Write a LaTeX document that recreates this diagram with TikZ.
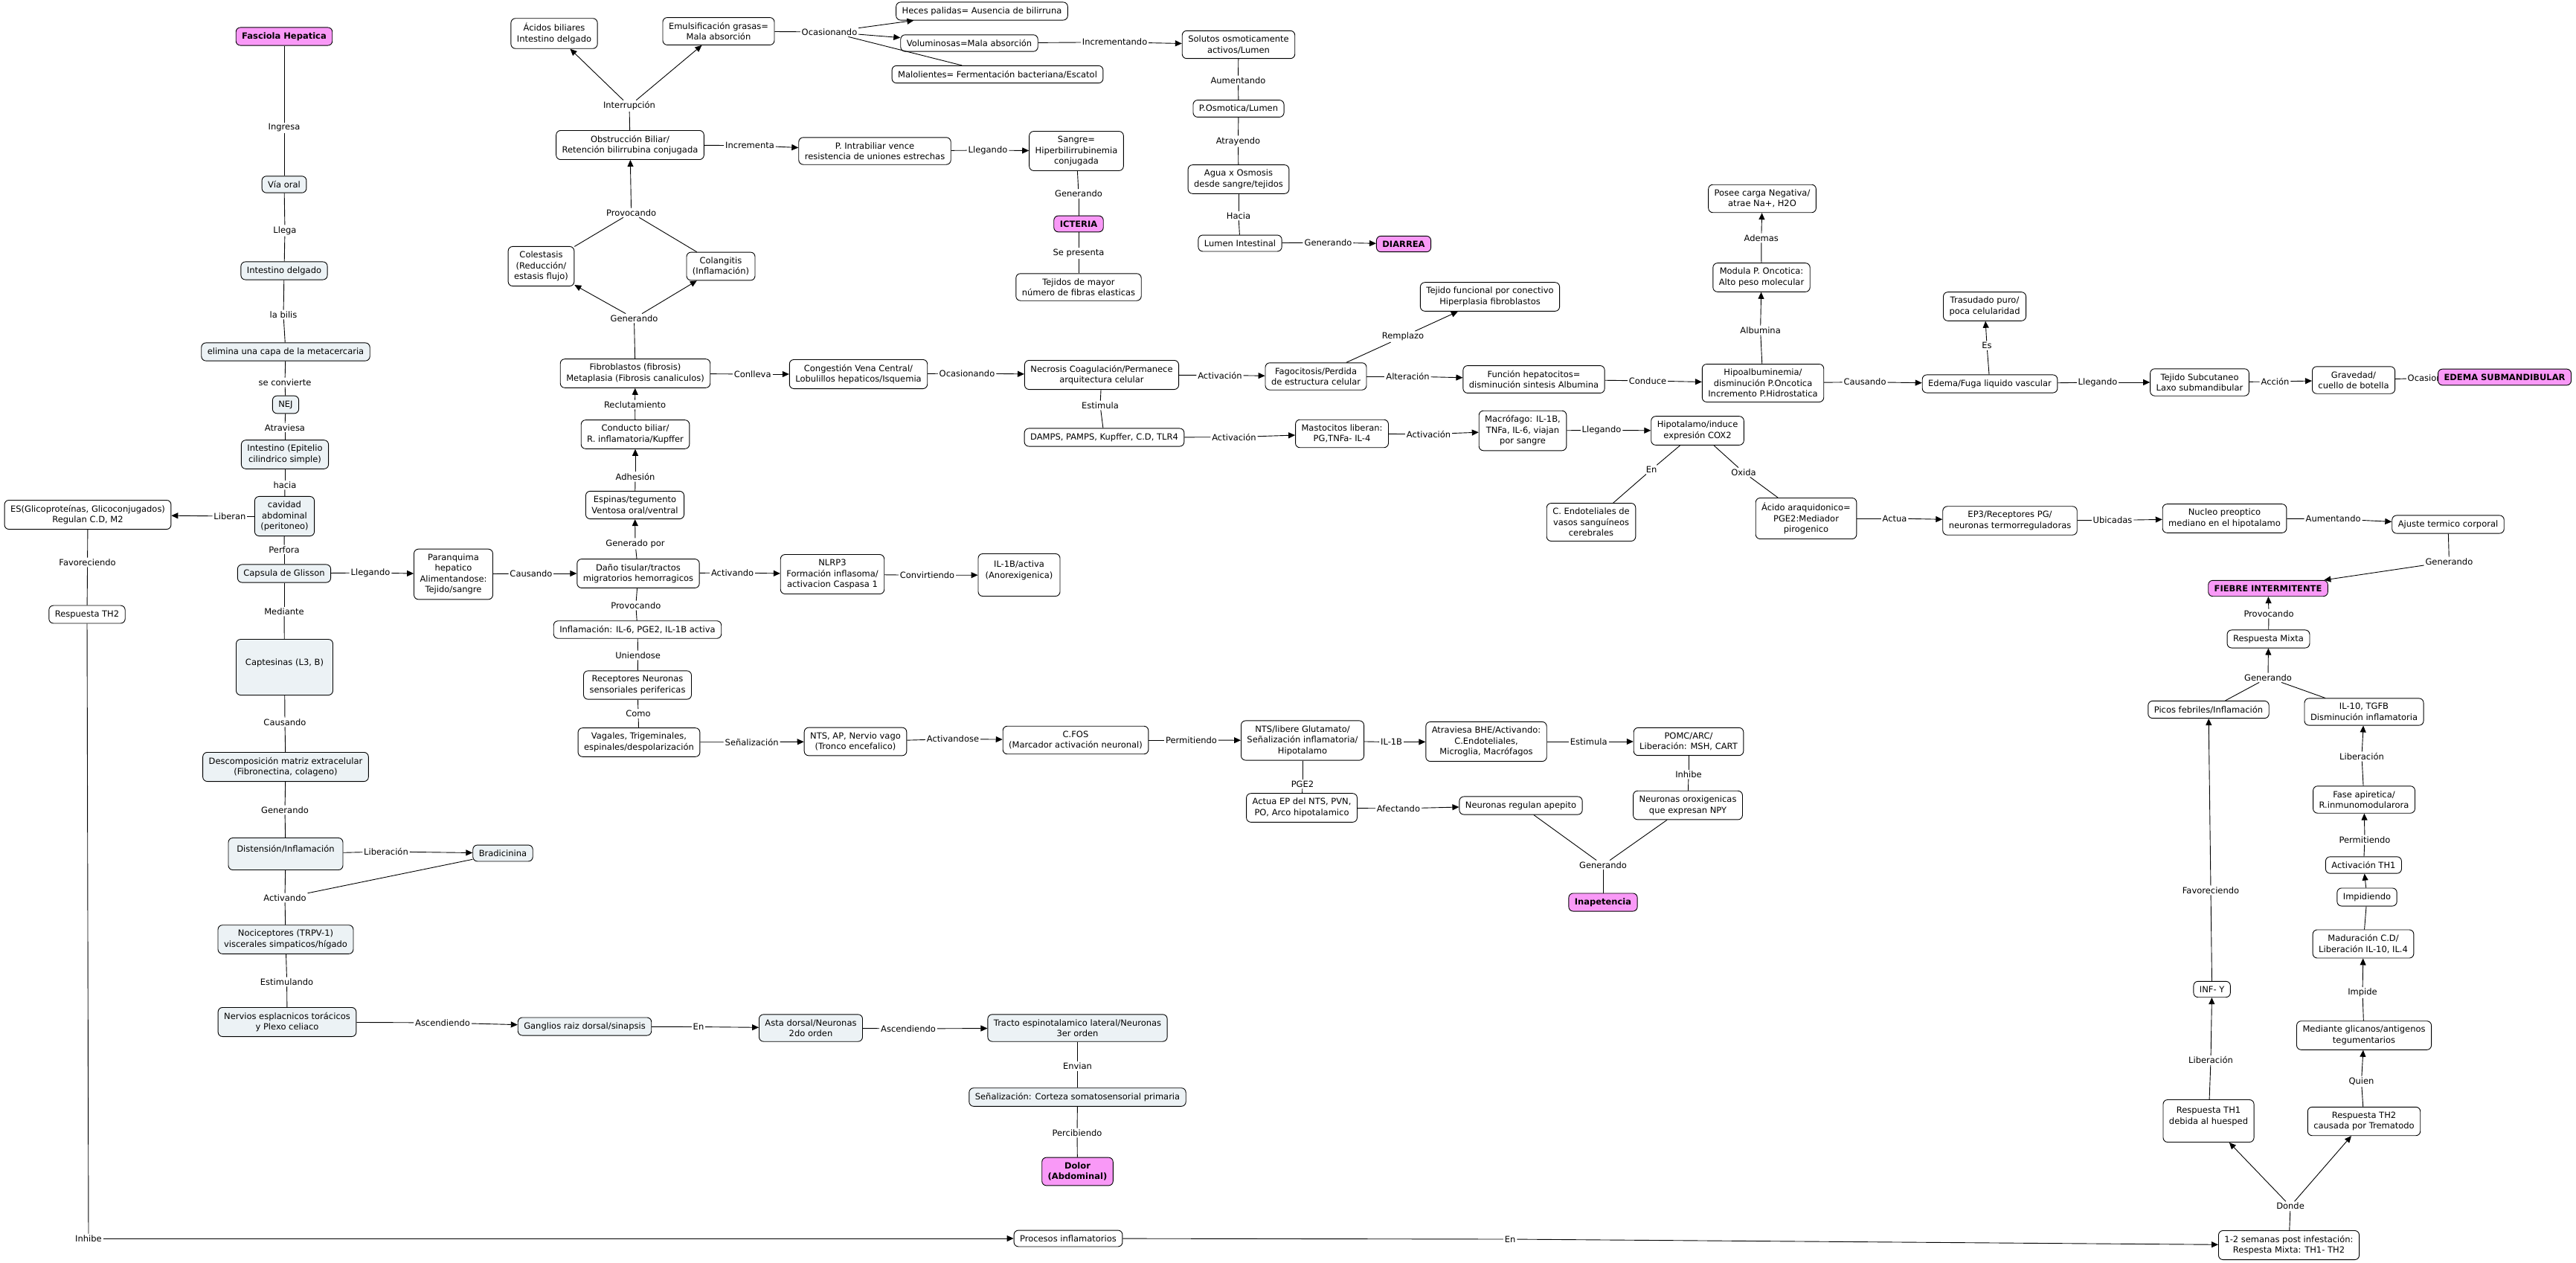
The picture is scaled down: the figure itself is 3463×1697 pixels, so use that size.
\documentclass[tikz,border=0pt]{standalone}
\usepackage{fontspec}
\setmainfont{DejaVu Sans}
\usepackage{tikz}
\usetikzlibrary{arrows.meta}
\definecolor{keypink}{RGB}{249,153,247}
\definecolor{paleblue}{RGB}{236,242,245}

\begin{document}
\begin{tikzpicture}[x=1pt, y=-1pt, line width=0.9pt, font=\fontsize{11.5}{14.5}\selectfont,
  concept/.style={draw, rounded corners=6pt, align=center, inner xsep=8pt, inner ysep=6.5pt, fill=white},
  bluec/.style={concept, fill=paleblue},
  keyc/.style={concept, fill=keypink, font=\fontsize{11.5}{14.5}\selectfont\bfseries},
  link/.style={inner sep=1.5pt, align=center},
  arr/.style={-{Triangle[length=9pt,width=8pt]}}]
  \useasboundingbox (0,0) rectangle (3463,1697);

  % left column
  \node[keyc] (fasc) at (382,49) {Fasciola Hepatica};
  \node[bluec] (viaoral) at (382,248) {Vía oral};
  \node[bluec] (intdel) at (382,364) {Intestino delgado};
  \node[bluec] (elimina) at (384,473) {elimina una capa de la metacercaria};
  \node[bluec] (nej) at (384,544) {NEJ};
  \node[bluec] (epitelio) at (383,611) {Intestino (Epitelio\\cilindrico simple)};
  \node[bluec] (cavidad) at (382.5,694) {cavidad\\abdominal\\(peritoneo)};
  \node[concept] (es) at (118,692) {ES(Glicoproteínas, Glicoconjugados)\\Regulan C.D, M2};
  \node[concept] (rth2) at (117,826) {Respuesta TH2};
  \node[bluec] (glisson) at (382,771) {Capsula de Glisson};
  \node[concept] (parenq) at (609.5,772) {Paranquima\\hepatico\\Alimentandose:\\Tejido/sangre};
  \node[bluec, minimum width=130pt, minimum height=75pt] (captes) at (382.5,897) {Captesinas (L3, B)\\\mbox{}};
  \node[bluec] (descomp) at (384,1031) {Descomposición matriz extracelular\\(Fibronectina, colageno)};
  \node[bluec, minimum width=154pt, minimum height=43pt] (disten) at (384,1148) {Distensión/Inflamación\\\mbox{}};
  \node[bluec] (bradi) at (676,1147) {Bradicinina};
  \node[bluec] (nocic) at (384,1263) {Nociceptores (TRPV-1)\\viscerales simpaticos/hígado};
  \node[bluec] (nervios) at (386,1374) {Nervios esplacnicos torácicos\\y Plexo celiaco};
  \node[bluec] (ganglios) at (786,1380) {Ganglios raiz dorsal/sinapsis};
  \node[bluec] (asta) at (1090,1382) {Asta dorsal/Neuronas\\2do orden};
  \node[bluec] (tracto) at (1448.5,1382) {Tracto espinotalamico lateral/Neuronas\\3er orden};
  \node[bluec] (corteza) at (1448.5,1475) {Señalización: Corteza somatosensorial primaria};
  \node[keyc] (dolor) at (1448.5,1575) {Dolor\\(Abdominal)};
  \node[concept] (procesos) at (1436,1665) {Procesos inflamatorios};
  \node[concept] (semanas) at (3077,1674) {1-2 semanas post infestación:\\Respesta Mixta: TH1- TH2};

  % bile ducts, diarrhea, jaundice
  \node[concept] (acidos) at (745,45) {Ácidos biliares\\Intestino delgado};
  \node[concept] (emuls) at (966,42) {Emulsificación grasas=\\Mala absorción};
  \node[concept] (heces) at (1320,15) {Heces palidas= Ausencia de bilirruna};
  \node[concept] (volum) at (1303,58) {Voluminosas=Mala absorción};
  \node[concept] (malol) at (1341,100) {Malolientes= Fermentación bacteriana/Escatol};
  \node[concept] (obstr) at (847,195) {Obstrucción Biliar/\\Retención bilirrubina conjugada};
  \node[concept] (pintra) at (1176,203) {P. Intrabiliar vence\\resistencia de uniones estrechas};
  \node[concept] (sangre) at (1447,203) {Sangre=\\Hiperbilirrubinemia\\conjugada};
  \node[keyc] (icteria) at (1450,301) {ICTERIA};
  \node[concept] (tejmayor) at (1450,386) {Tejidos de mayor\\número de fibras elasticas};
  \node[concept] (solutos) at (1665,60) {Solutos osmoticamente\\activos/Lumen};
  \node[concept] (posm) at (1665,146) {P.Osmotica/Lumen};
  \node[concept] (agua) at (1665,241) {Agua x Osmosis\\desde sangre/tejidos};
  \node[concept] (lumen) at (1667,327) {Lumen Intestinal};
  \node[keyc] (diarrea) at (1887,328) {DIARREA};
  \node[concept] (colest) at (727.5,358) {Colestasis\\(Reducción/\\estasis flujo)};
  \node[concept] (colang) at (969,358) {Colangitis\\(Inflamación)};
  \node[concept] (fibro) at (854,502) {Fibroblastos (fibrosis)\\Metaplasia (Fibrosis canaliculos)};
  \node[concept] (congest) at (1154,503) {Congestión Vena Central/\\Lobulillos hepaticos/Isquemia};
  \node[concept] (necrosis) at (1481,504) {Necrosis Coagulación/Permanece\\arquitectura celular};
  \node[concept] (fagoc) at (1769,506) {Fagocitosis/Perdida\\de estructura celular};
  \node[concept] (tejfunc) at (2003,399) {Tejido funcional por conectivo\\Hiperplasia fibroblastos};
  \node[concept] (funcion) at (2062,510) {Función hepatocitos=\\disminución sintesis Albumina};
  \node[concept] (hipoalb) at (2370,515) {Hipoalbuminemia/\\disminución P.Oncotica\\Incremento P.Hidrostatica};
  \node[concept] (modula) at (2368,373) {Modula P. Oncotica:\\Alto peso molecular};
  \node[concept] (posee) at (2369,267) {Posee carga Negativa/\\atrae Na+, H2O};
  \node[concept] (edema) at (2675,516) {Edema/Fuga liquido vascular};
  \node[concept] (trasud) at (2668,412) {Trasudado puro/\\poca celularidad};
  \node[concept] (subcut) at (2957,514) {Tejido Subcutaneo\\Laxo submandibular};
  \node[concept] (graved) at (3164,511) {Gravedad/\\cuello de botella};
  \node[link] (lOcasion3) at (3274,508) {Ocasionando};
  \node[keyc] (edemasub) at (3367,507) {EDEMA SUBMANDIBULAR};

  % middle: damage, inflammation, fever
  \node[concept] (conducto) at (854,584) {Conducto biliar/\\R. inflamatoria/Kupffer};
  \node[concept] (espinas) at (853.5,679) {Espinas/tegumento\\Ventosa oral/ventral};
  \node[concept] (dano) at (858,771) {Daño tisular/tractos\\migratorios hemorragicos};
  \node[concept] (nlrp) at (1119,772) {NLRP3\\Formación inflasoma/\\activacion Caspasa 1};
  \node[concept, minimum width=110pt, minimum height=57pt] (ilactiva) at (1370,773) {IL-1B/activa\\(Anorexigenica)\\\mbox{}};
  \node[concept] (inflam) at (857,846.5) {Inflamación: IL-6, PGE2, IL-1B activa};
  \node[concept] (recept) at (857,921) {Receptores Neuronas\\sensoriales perifericas};
  \node[concept] (vagales) at (859,998) {Vagales, Trigeminales,\\espinales/despolarización};
  \node[concept] (ntsap) at (1150,997) {NTS, AP, Nervio vago\\(Tronco encefalico)};
  \node[concept] (cfos) at (1446,995) {C.FOS\\(Marcador activación neuronal)};
  \node[concept] (damps) at (1484.5,588) {DAMPS, PAMPS, Kupffer, C.D, TLR4};
  \node[concept] (masto) at (1804,583) {Mastocitos liberan:\\PG,TNFa- IL-4};
  \node[concept] (macro) at (2047,579) {Macrófago: IL-1B,\\TNFa, IL-6, viajan\\por sangre};
  \node[concept] (hipot) at (2282,579) {Hipotalamo/induce\\expresión COX2};
  \node[concept] (cendot) at (2139,702) {C. Endoteliales de\\vasos sanguíneos\\cerebrales};
  \node[concept] (acido) at (2428,697) {Ácido araquidonico=\\PGE2:Mediador\\pirogenico};
  \node[concept] (ep3) at (2702,700) {EP3/Receptores PG/\\neuronas termorreguladoras};
  \node[concept] (nucleo) at (2990.5,697) {Nucleo preoptico\\mediano en el hipotalamo};
  \node[concept] (ajuste) at (3291,705) {Ajuste termico corporal};
  \node[keyc] (fiebre) at (3049,791) {FIEBRE INTERMITENTE};
  \node[concept] (rmixta) at (3049.5,859) {Respuesta Mixta};
  \node[concept] (picos) at (2969,954) {Picos febriles/Inflamación};
  \node[concept] (il10) at (3178,957) {IL-10, TGFB\\Disminución inflamatoria};
  \node[concept] (fase) at (3178,1075) {Fase apiretica/\\R.inmunomodularora};
  \node[concept] (acth1) at (3177.4,1163) {Activación TH1};
  \node[concept] (impidiendo) at (3182,1206) {Impidiendo};
  \node[concept] (madur) at (3177,1269) {Maduración C.D/\\Liberación IL-10, IL.4};
  \node[concept] (mediante) at (3178,1392) {Mediante glicanos/antigenos\\tegumentarios};
  \node[concept] (rth2b) at (3178,1507.5) {Respuesta TH2\\causada por Trematodo};
  \node[concept, minimum height=57pt] (rth1) at (2969,1507) {Respuesta TH1\\debida al huesped\\\mbox{}};
  \node[concept] (infy) at (2973.6,1330) {INF- Y};
  \node[concept] (ntslib) at (1751,995.5) {NTS/libere Glutamato/\\Señalización inflamatoria/\\Hipotalamo};
  \node[concept] (atrav) at (1998,997) {Atraviesa BHE/Activando:\\C.Endoteliales,\\Microglia, Macrófagos};
  \node[concept] (pomc) at (2270,997) {POMC/ARC/\\Liberación: MSH, CART};
  \node[concept] (neurox) at (2269,1082.6) {Neuronas oroxigenicas\\que expresan NPY};
  \node[concept] (actuaep) at (1750,1086) {Actua EP del NTS, PVN,\\PO, Arco hipotalamico};
  \node[concept] (neureg) at (2044.5,1083) {Neuronas regulan apepito};
  \node[keyc] (inapet) at (2155,1213) {Inapetencia};

  % linking phrases
  \node[link] (lIngresa) at (382,172) {Ingresa};
  \node[link] (lLlega) at (383,310) {Llega};
  \node[link] (lBilis) at (381,423) {la bilis};
  \node[link] (lConvierte) at (383,514) {se convierte};
  \node[link] (lAtraviesa) at (383,575) {Atraviesa};
  \node[link] (lHacia) at (383,652) {hacia};
  \node[link] (lLiberan) at (309,694) {Liberan};
  \node[link] (lFavor) at (117.6,756) {Favoreciendo};
  \node[link] (lPerfora) at (382,739) {Perfora};
  \node[link] (lLlegando1) at (498,770) {Llegando};
  \node[link] (lCausando1) at (714,771) {Causando};
  \node[link] (lMediante) at (382,822) {Mediante};
  \node[link] (lCausando2) at (383,971) {Causando};
  \node[link] (lGenerando1) at (383,1089) {Generando};
  \node[link] (lLiberacion1) at (519,1145) {Liberación};
  \node[link] (lActivando1) at (383,1207) {Activando};
  \node[link] (lEstimulando) at (385.6,1320) {Estimulando};
  \node[link] (lAscend1) at (595,1375) {Ascendiendo};
  \node[link] (lEn1) at (939,1380.5) {En};
  \node[link] (lAscend2) at (1221,1383) {Ascendiendo};
  \node[link] (lEnvian) at (1448.5,1433.5) {Envian};
  \node[link] (lPercib) at (1448,1523) {Percibiendo};
  \node[link] (lInhibe1) at (119,1665) {Inhibe};
  \node[link] (lEn2) at (2030,1666) {En};
  \node[link] (lInterr) at (846,142.5) {Interrupción};
  \node[link] (lOcasion1) at (1115,43) {Ocasionando};
  \node[link] (lIncrementa) at (1008,195.6) {Incrementa};
  \node[link] (lLlegando2) at (1328,202) {Llegando};
  \node[link] (lGenerando2) at (1450,260.6) {Generando};
  \node[link] (lSepresenta) at (1450,340.6) {Se presenta};
  \node[link] (lIncrementando) at (1498.6,56.7) {Incrementando};
  \node[link] (lAumentando1) at (1664.5,108) {Aumentando};
  \node[link] (lAtrayendo) at (1664.5,190) {Atrayendo};
  \node[link] (lHacia2) at (1665,290) {Hacia};
  \node[link] (lGenerando3) at (1785.5,326) {Generando};
  \node[link] (lProvocando1) at (848.6,286) {Provocando};
  \node[link] (lGenerando4) at (852.5,428) {Generando};
  \node[link] (lConlleva) at (1011.7,503) {Conlleva};
  \node[link] (lOcasion2) at (1300,502) {Ocasionando};
  \node[link] (lReclut) at (853.6,544) {Reclutamiento};
  \node[link] (lEstimula1) at (1479,545) {Estimula};
  \node[link] (lActivacion1) at (1640,504.5) {Activación};
  \node[link] (lRemplazo) at (1886,452.6) {Remplazo};
  \node[link] (lAlteracion) at (1892.5,506) {Alteración};
  \node[link] (lConduce) at (2215,512) {Conduce};
  \node[link] (lAlbumina) at (2366.6,444) {Albumina};
  \node[link] (lAdemas) at (2367.8,320) {Ademas};
  \node[link] (lCausando3) at (2507,513.6) {Causando};
  \node[link] (lEs) at (2671,464.6) {Es};
  \node[link] (lLlegando3) at (2820,514) {Llegando};
  \node[link] (lAccion) at (3058.5,513) {Acción};
  \node[link] (lAdhesion) at (854,641) {Adhesión};
  \node[link] (lGenerado) at (854,731) {Generado por};
  \node[link] (lActivando2) at (984.6,770) {Activando};
  \node[link] (lConvirt) at (1246.5,773.4) {Convirtiendo};
  \node[link] (lProvocando2) at (854.8,814) {Provocando};
  \node[link] (lUniendose) at (857.6,881) {Uniendose};
  \node[link] (lComo) at (858,959.5) {Como};
  \node[link] (lSenal) at (1010.7,997.6) {Señalización};
  \node[link] (lActivandose) at (1281,993.5) {Activandose};
  \node[link] (lActivacion2) at (1659,587.7) {Activación};
  \node[link] (lActivacion3) at (1920.5,583.7) {Activación};
  \node[link] (lLlegando4) at (2153,578.5) {Llegando};
  \node[link] (lEn3) at (2220,631.4) {En};
  \node[link] (lOxida) at (2344,635) {Oxida};
  \node[link] (lActua) at (2547,697) {Actua};
  \node[link] (lUbicadas) at (2840,699.5) {Ubicadas};
  \node[link] (lAumentando2) at (3136.6,697.6) {Aumentando};
  \node[link] (lGenerando5) at (3292.4,755) {Generando};
  \node[link] (lProvocando3) at (3050,825) {Provocando};
  \node[link] (lGenerando6) at (3049,911) {Generando};
  \node[link] (lLiberacion2) at (3175,1017) {Liberación};
  \node[link] (lPermit2) at (3179,1129) {Permitiendo};
  \node[link] (lImpide) at (3176,1334.5) {Impide};
  \node[link] (lQuien) at (3174.5,1454) {Quien};
  \node[link] (lDonde) at (3079,1621.6) {Donde};
  \node[link] (lLiberacion3) at (2972,1425.4) {Liberación};
  \node[link] (lFavor2) at (2972,1197) {Favoreciendo};
  \node[link] (lPermit1) at (1601.5,995) {Permitiendo};
  \node[link] (lIL1B) at (1870.6,997.6) {IL-1B};
  \node[link] (lEstimula2) at (2135.8,997) {Estimula};
  \node[link] (lInhibe2) at (2270,1041) {Inhibe};
  \node[link] (lPGE2) at (1751,1054) {PGE2};
  \node[link] (lAfectando) at (1880,1087) {Afectando};
  \node[link] (lGenerando7) at (2155,1163) {Generando};

  % connectors
  \draw (fasc)--(lIngresa); \draw (lIngresa)--(viaoral);
  \draw (viaoral)--(lLlega); \draw (lLlega)--(intdel);
  \draw (intdel)--(lBilis); \draw (lBilis)--(elimina);
  \draw (elimina)--(lConvierte); \draw (lConvierte)--(nej);
  \draw (nej)--(lAtraviesa); \draw (lAtraviesa)--(epitelio);
  \draw (epitelio)--(lHacia); \draw (lHacia)--(cavidad);
  \draw (cavidad)--(lLiberan); \draw[arr] (lLiberan)--(es);
  \draw (es)--(lFavor); \draw (lFavor)--(rth2);
  \draw (cavidad)--(lPerfora); \draw (lPerfora)--(glisson);
  \draw (glisson)--(lLlegando1); \draw[arr] (lLlegando1)--(parenq);
  \draw (parenq)--(lCausando1); \draw[arr] (lCausando1)--(dano);
  \draw (glisson)--(lMediante); \draw (lMediante)--(captes);
  \draw (captes)--(lCausando2); \draw (lCausando2)--(descomp);
  \draw (descomp)--(lGenerando1); \draw (lGenerando1)--(disten);
  \draw (disten)--(lLiberacion1); \draw[arr] (lLiberacion1)--(bradi);
  \draw (disten)--(lActivando1); \draw (bradi)--(lActivando1); \draw (lActivando1)--(nocic);
  \draw (nocic)--(lEstimulando); \draw (lEstimulando)--(nervios);
  \draw (nervios)--(lAscend1); \draw[arr] (lAscend1)--(ganglios);
  \draw (ganglios)--(lEn1); \draw[arr] (lEn1)--(asta);
  \draw (asta)--(lAscend2); \draw[arr] (lAscend2)--(tracto);
  \draw (tracto)--(lEnvian); \draw (lEnvian)--(corteza);
  \draw (corteza)--(lPercib); \draw (lPercib)--(dolor);
  \draw (rth2)--(lInhibe1); \draw[arr] (lInhibe1)--(procesos);
  \draw (procesos)--(lEn2); \draw[arr] (lEn2)--(semanas);

  \draw (dano)--(lGenerado); \draw[arr] (lGenerado)--(espinas);
  \draw (espinas)--(lAdhesion); \draw[arr] (lAdhesion)--(conducto);
  \draw (conducto)--(lReclut); \draw[arr] (lReclut)--(fibro);
  \draw (fibro)--(lGenerando4); \draw[arr] (lGenerando4)--(colest); \draw[arr] (lGenerando4)--(colang);
  \draw (colest)--(lProvocando1); \draw (colang)--(lProvocando1); \draw[arr] (lProvocando1)--(obstr);
  \draw (obstr)--(lInterr); \draw[arr] (lInterr)--(acidos); \draw[arr] (lInterr)--(emuls);
  \draw (emuls)--(lOcasion1); \draw[arr] (lOcasion1)--(heces); \draw[arr] (lOcasion1)--(volum); \draw (lOcasion1)--(malol);
  \draw (volum)--(lIncrementando); \draw[arr] (lIncrementando)--(solutos);
  \draw (solutos)--(lAumentando1); \draw (lAumentando1)--(posm);
  \draw (posm)--(lAtrayendo); \draw (lAtrayendo)--(agua);
  \draw (agua)--(lHacia2); \draw (lHacia2)--(lumen);
  \draw (lumen)--(lGenerando3); \draw[arr] (lGenerando3)--(diarrea);
  \draw (obstr)--(lIncrementa); \draw[arr] (lIncrementa)--(pintra);
  \draw (pintra)--(lLlegando2); \draw[arr] (lLlegando2)--(sangre);
  \draw (sangre)--(lGenerando2); \draw (lGenerando2)--(icteria);
  \draw (icteria)--(lSepresenta); \draw (lSepresenta)--(tejmayor);
  \draw (fibro)--(lConlleva); \draw[arr] (lConlleva)--(congest);
  \draw (congest)--(lOcasion2); \draw[arr] (lOcasion2)--(necrosis);
  \draw (necrosis)--(lActivacion1); \draw[arr] (lActivacion1)--(fagoc);
  \draw (fagoc)--(lRemplazo); \draw[arr] (lRemplazo)--(tejfunc);
  \draw (fagoc)--(lAlteracion); \draw[arr] (lAlteracion)--(funcion);
  \draw (funcion)--(lConduce); \draw[arr] (lConduce)--(hipoalb);
  \draw (hipoalb)--(lAlbumina); \draw[arr] (lAlbumina)--(modula);
  \draw (modula)--(lAdemas); \draw[arr] (lAdemas)--(posee);
  \draw (hipoalb)--(lCausando3); \draw[arr] (lCausando3)--(edema);
  \draw (edema)--(lEs); \draw[arr] (lEs)--(trasud);
  \draw (edema)--(lLlegando3); \draw[arr] (lLlegando3)--(subcut);
  \draw (subcut)--(lAccion); \draw[arr] (lAccion)--(graved);
  \draw (graved)--(lOcasion3);

  \draw (necrosis)--(lEstimula1); \draw (lEstimula1)--(damps);
  \draw (damps)--(lActivacion2); \draw[arr] (lActivacion2)--(masto);
  \draw (masto)--(lActivacion3); \draw[arr] (lActivacion3)--(macro);
  \draw (macro)--(lLlegando4); \draw[arr] (lLlegando4)--(hipot);
  \draw (hipot)--(lEn3); \draw (lEn3)--(cendot);
  \draw (hipot)--(lOxida); \draw (lOxida)--(acido);
  \draw (acido)--(lActua); \draw[arr] (lActua)--(ep3);
  \draw (ep3)--(lUbicadas); \draw[arr] (lUbicadas)--(nucleo);
  \draw (nucleo)--(lAumentando2); \draw[arr] (lAumentando2)--(ajuste);
  \draw (ajuste)--(lGenerando5); \draw[arr] (lGenerando5)--(fiebre);
  \draw (rmixta)--(lProvocando3); \draw[arr] (lProvocando3)--(fiebre);
  \draw (picos)--(lGenerando6); \draw (il10)--(lGenerando6); \draw[arr] (lGenerando6)--(rmixta);
  \draw (fase)--(lLiberacion2); \draw[arr] (lLiberacion2)--(il10);
  \draw (acth1)--(lPermit2); \draw[arr] (lPermit2)--(fase);
  \draw[arr] (impidiendo)--(acth1); \draw (madur)--(impidiendo);
  \draw (mediante)--(lImpide); \draw[arr] (lImpide)--(madur);
  \draw (rth2b)--(lQuien); \draw[arr] (lQuien)--(mediante);
  \draw (semanas)--(lDonde); \draw[arr] (lDonde)--(rth1); \draw[arr] (lDonde)--(rth2b);
  \draw (rth1)--(lLiberacion3); \draw[arr] (lLiberacion3)--(infy);
  \draw (infy)--(lFavor2); \draw[arr] (lFavor2)--(picos);

  \draw (dano)--(lActivando2); \draw[arr] (lActivando2)--(nlrp);
  \draw (nlrp)--(lConvirt); \draw[arr] (lConvirt)--(ilactiva);
  \draw (dano)--(lProvocando2); \draw (lProvocando2)--(inflam);
  \draw (inflam)--(lUniendose); \draw (lUniendose)--(recept);
  \draw (recept)--(lComo); \draw (lComo)--(vagales);
  \draw (vagales)--(lSenal); \draw[arr] (lSenal)--(ntsap);
  \draw (ntsap)--(lActivandose); \draw[arr] (lActivandose)--(cfos);
  \draw (cfos)--(lPermit1); \draw[arr] (lPermit1)--(ntslib);
  \draw (ntslib)--(lIL1B); \draw[arr] (lIL1B)--(atrav);
  \draw (atrav)--(lEstimula2); \draw[arr] (lEstimula2)--(pomc);
  \draw (pomc)--(lInhibe2); \draw (lInhibe2)--(neurox);
  \draw (ntslib)--(lPGE2); \draw (lPGE2)--(actuaep);
  \draw (actuaep)--(lAfectando); \draw[arr] (lAfectando)--(neureg);
  \draw (neureg)--(lGenerando7); \draw (neurox)--(lGenerando7); \draw (lGenerando7)--(inapet);
\end{tikzpicture}
\end{document}
